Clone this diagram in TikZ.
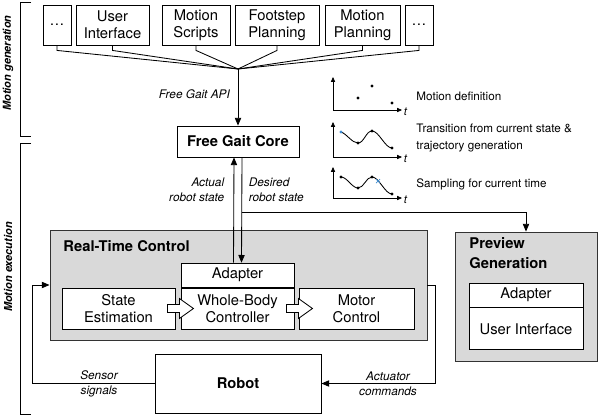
\documentclass[tikz,border=0pt]{standalone}
\usepackage{fontspec}
\setmainfont{TeX Gyre Heros}
\usetikzlibrary{arrows.meta, positioning, calc}
\definecolor{ptblue}{RGB}{60,140,210}

\begin{document}
\begin{tikzpicture}[
  x=0.025cm, y=-0.025cm,
  line width=0.6pt,
  every node/.style={font=\fontsize{10.5}{12}\selectfont},
  box/.style={draw, fill=white, inner sep=0pt, align=center, minimum height=1.025cm},
  topbox/.style={box, minimum height=1cm},
  bold/.style={font=\fontsize{10.5}{12}\selectfont\bfseries},
  panel/.style={draw=black!80, fill=black!15, inner sep=0pt},
  lbl/.style={font=\fontsize{8.4}{10.5}\selectfont\itshape, inner sep=1pt},
  note/.style={font=\fontsize{8.3}{10.5}\selectfont, anchor=west, align=left, inner sep=0pt},
  tlbl/.style={font=\fontsize{8}{9}\selectfont\itshape, inner sep=1pt, anchor=west, yshift=-1pt},
  side/.style={font=\fontsize{7.8}{9}\selectfont\bfseries\itshape, rotate=90},
  arr/.style={-{Triangle[length=5.5pt,width=4.5pt]}},
  ax/.style={-{Triangle[length=3.5pt,width=3pt]}, line width=0.5pt},
  blockarr/.style={draw, fill=white, line join=miter}
]
\useasboundingbox (0,0) rectangle (600,416);

%% motion generation sources
\node[topbox, minimum width=0.7cm]   (dl) at (57,25)    {\dots};
\node[topbox, minimum width=1.825cm] (ui) at (112.5,25) {User\\Interface};
\node[topbox, minimum width=1.7cm]   (ms) at (196,25)   {Motion\\Scripts};
\node[topbox, minimum width=2.1cm]   (fp) at (277,25)   {Footstep\\Planning};
\node[topbox, minimum width=1.875cm] (mp) at (362.5,25) {Motion\\Planning};
\node[topbox, minimum width=0.7cm]   (dr) at (419,25)   {\dots};

\coordinate (api) at (238,69);
\foreach \n in {dl, ui, ms, fp, mp, dr}
  \draw (\n.south) -- ++(0,5) -- (api);

%% core
\node[box, bold, minimum width=3.05cm, minimum height=0.775cm] (fgc) at (238,141.5) {Free Gait Core};
\draw[arr] (api) -- node[lbl, left=4.5pt, pos=0.45] {Free Gait API} (fgc);

%% real-time control
\node[panel, minimum width=9.425cm, minimum height=2.75cm] (rtc) at (238.5,285) {};
\node[bold, anchor=west, inner sep=0pt] (rtct) at (63,246) {Real-Time Control};
\node[box, minimum width=2.825cm] (wbc) at (237.5,308.5) {Whole-Body\\Controller};
\node[box, minimum width=2.825cm, minimum height=0.6cm, above=0pt of wbc] (ad) {Adapter};
\node[box, minimum width=2.825cm] (se) at (118.5,308.5) {State\\Estimation};
\node[box, minimum width=2.875cm] (mc) at (356.5,308.5) {Motor\\Control};

\foreach \a in {se, wbc}
  \draw[blockarr] ($(\a.east)+(-8,-4)$) -- ++(12,0) -- ++(0,-6) -- ++(14,10)
    -- ++(-14,10) -- ++(0,-6) -- ++(-12,0) -- cycle;

%% preview generation
\node[panel, minimum width=3.55cm, minimum height=3.225cm] (pg) at (526,296.5) {};
\node[anchor=west, align=left, inner sep=0pt, font=\fontsize{10.5}{14}\selectfont\bfseries] (pgt) at (469,253) {Preview\\Generation};
\node[box, minimum width=2.85cm, minimum height=0.6cm] (pgad) at (526,295) {Adapter};
\node[box, minimum width=2.85cm, minimum height=1.05cm, below=0pt of pgad] (pgui) {User Interface};

%% robot
\node[box, bold, minimum width=4.15cm, minimum height=1.475cm] (rob) at (238,383.5) {Robot};

%% robot state exchange
\draw[arr] ($(ad.north)+(-4,0)$) -- ($(fgc.south)+(-4,0)$);
\draw[arr] ($(fgc.south)+(4,0)$) -- coordinate[pos=0.52] (brn) ($(ad.north)+(4,0)$);
\draw[arr] (brn) -| (pg.north);
\node[lbl, anchor=east, align=right] (actl) at (226,190) {Actual\\robot state};
\node[lbl, anchor=west, align=left] (desl) at (247,190) {Desired\\robot state};

%% feedback loop
\coordinate (sl) at (32,383.5);
\coordinate (ar) at (435,285);
\draw[arr] (rob.west) -- (sl) |- (rtc.west);
\draw[arr] (rtc.east) -- (ar) |- (rob.east);
\node[lbl, align=center] (sens) at (99,383.5) {Sensor\\signals};
\node[lbl, align=center] (act) at (388,384) {Actuator\\commands};

%% side brackets
\draw (31,2) -- (20,2) -- (20,136) -- (31,136);
\draw (31,143) -- (20,143) -- (20,414) -- (31,414);
\node[side] (mgen) at (8,63) {Motion generation};
\node[side] (mexe) at (8,267) {Motion execution};

%% trajectory sketches
\begin{scope}[shift={(333,110)}]
  \draw[ax] (0,0) -- (0,-33);
  \draw[ax] (0,0) -- (69,0) node[tlbl] {t};
  \foreach \p in {(25,-12), (39,-24), (59,-7)}
    \fill \p circle (1.1pt);
\end{scope}
\begin{scope}[shift={(333,157)}]
  \draw[ax] (0,0) -- (0,-35);
  \draw[ax] (0,0) -- (69,0) node[tlbl] {t};
  \draw (8,-25) .. controls (14,-23) and (19,-14) .. (25,-14)
    .. controls (31,-14) and (33,-26) .. (39,-26)
    .. controls (46,-26) and (52,-9) .. (59,-9);
  \fill[ptblue] (8,-25) circle (1.1pt);
  \foreach \p in {(25,-14), (39,-26), (59,-9)}
    \fill \p circle (1.1pt);
\end{scope}
\begin{scope}[shift={(333,198)}]
  \draw[ax] (0,0) -- (0,-31);
  \draw[ax] (0,0) -- (69,0) node[tlbl] {t};
  \draw (8,-21) .. controls (14,-21) and (19,-10) .. (25,-10)
    .. controls (31,-10) and (33,-21) .. (39,-21)
    .. controls (46,-21) and (52,-4) .. (59,-4);
  \foreach \p in {(8,-21), (25,-10), (39,-21), (59,-4)}
    \fill \p circle (1.1pt);
  \draw[ptblue, line width=0.5pt] (43,-19) -- (47,-15) (43,-15) -- (47,-19);
\end{scope}

\node[note] (n1) at (416,96) {Motion definition};
\node[note] (n2) at (416,138) {Transition from current state \&\\[2pt]trajectory generation};
\node[note] (n3) at (416,184) {Sampling for current time};
\end{tikzpicture}
\end{document}
